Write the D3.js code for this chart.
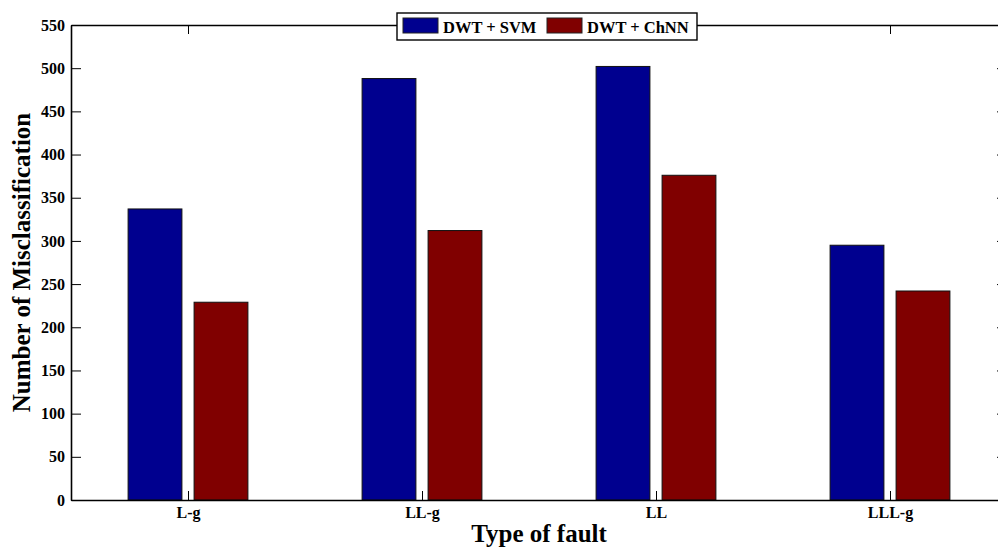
<!DOCTYPE html>
<html>
<head>
<meta charset="utf-8">
<script src="https://cdn.jsdelivr.net/npm/d3@7/dist/d3.min.js"></script>
<style>
  html, body { margin: 0; padding: 0; background: #fff; }
  svg { display: block; }
  text { font-family: "Liberation Serif", "Times New Roman", serif; font-weight: bold; fill: #000; }
</style>
</head>
<body>
<svg id="chart" width="998" height="550"></svg>
<script>
// Fault types and misclassification counts per method
const categories = ["L-g", "LL-g", "LL", "LLL-g"];
const seriesNames = ["DWT + SVM", "DWT + ChNN"];
const svmValues = [337, 488, 502, 295];
const chnnValues = [229, 312, 376, 242];
const yTicks = [0, 50, 100, 150, 200, 250, 300, 350, 400, 450, 500, 550];
const colors = ["#00008f", "#800000"];

const svg = d3.select("#chart");
const margin = { left: 71, top: 25, right: 1007, bottom: 500 };

// Category positions run 1..4 with half a unit of padding on each side
const x = d3.scaleLinear().domain([0.5, 4.5]).range([margin.left, margin.right]);
const y = d3.scaleLinear().domain([0, 550]).range([margin.bottom, margin.top]);

const series = [svmValues, chnnValues];
const barWidth = 0.23;
const offsets = [-0.141, 0.141];

// Bars
series.forEach((vals, s) => {
  svg.append("g").selectAll("rect")
    .data(vals)
    .join("rect")
    .attr("x", (d, i) => x(i + 1 + offsets[s] - barWidth / 2))
    .attr("width", x(barWidth) - x(0))
    .attr("y", d => y(d))
    .attr("height", d => y(0) - y(d))
    .attr("fill", colors[s])
    .attr("stroke", "#111")
    .attr("stroke-width", 1);
});

// Axes: ticks point inward on all four sides
const ticksX = categories.map((c, i) => i + 1);
const bottomAxis = d3.axisBottom(x).tickValues(ticksX).tickFormat((d, i) => categories[i])
  .tickSizeInner(-9).tickSizeOuter(0).tickPadding(7);
const topAxis = d3.axisTop(x).tickValues(ticksX).tickFormat("").tickSizeInner(-9).tickSizeOuter(0);
const leftAxis = d3.axisLeft(y).tickValues(yTicks).tickSizeInner(-10).tickSizeOuter(0).tickPadding(6);
const rightAxis = d3.axisRight(y).tickValues(yTicks).tickFormat("").tickSizeInner(-10).tickSizeOuter(0);

function style(g) {
  g.select(".domain").attr("stroke", "#000").attr("stroke-width", 1.6);
  g.selectAll(".tick line").attr("stroke", "#000").attr("stroke-width", 1);
  g.selectAll(".tick text").attr("font-size", 16).attr("font-family", "Liberation Serif").attr("font-weight", "bold");
}

svg.append("g").attr("transform", `translate(0,${margin.bottom})`).call(bottomAxis).call(style);
svg.append("g").attr("transform", `translate(0,${margin.top})`).call(topAxis).call(style);
svg.append("g").attr("transform", `translate(${margin.left},0)`).call(leftAxis).call(style);
svg.append("g").attr("transform", `translate(${margin.right},0)`).call(rightAxis).call(style);

// Axis titles
svg.append("text")
  .attr("x", x(2.5)).attr("y", 542)
  .attr("text-anchor", "middle").attr("font-size", 25)
  .text("Type of fault");
svg.append("text")
  .attr("transform", `translate(30,${(margin.top + margin.bottom) / 2}) rotate(-90)`)
  .attr("text-anchor", "middle").attr("font-size", 25)
  .text("Number of Misclassification");

// Legend
const legend = svg.append("g").attr("transform", "translate(397,13)");
legend.append("rect").attr("width", 300).attr("height", 27)
  .attr("fill", "#fff").attr("stroke", "#000").attr("stroke-width", 1.4);
const entryX = [6, 150];
seriesNames.forEach((name, s) => {
  legend.append("rect").attr("x", entryX[s]).attr("y", 5).attr("width", 35).attr("height", 15)
    .attr("fill", colors[s]).attr("stroke", "#222").attr("stroke-width", 1);
  legend.append("text").attr("x", entryX[s] + 40).attr("y", 20)
    .attr("font-size", 16.5).text(name);
});
</script>
</body>
</html>
